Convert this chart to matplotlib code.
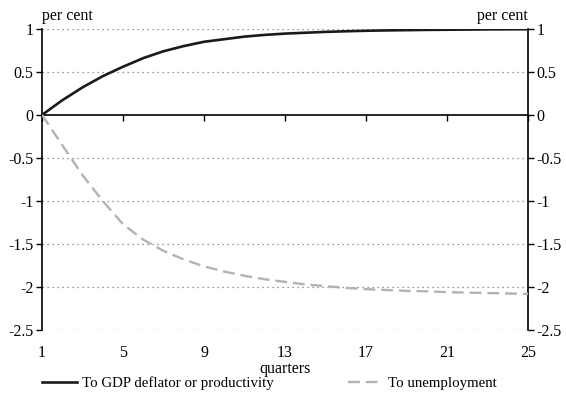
import matplotlib
matplotlib.use("Agg")
import matplotlib.pyplot as plt

plt.rcParams['font.family'] = ['Liberation Serif', 'DejaVu Serif']
plt.rcParams['font.size'] = 11.5

quarters = list(range(1, 26))
gdp_deflator = [0.0, 0.17, 0.32, 0.45, 0.56, 0.66, 0.74, 0.80, 0.85, 0.88,
                0.91, 0.93, 0.945, 0.955, 0.965, 0.972, 0.978, 0.982, 0.985,
                0.988, 0.99, 0.992, 0.994, 0.995, 0.996]
unemployment = [0.0, -0.35, -0.70, -1.0, -1.27, -1.45, -1.58, -1.68, -1.76,
                -1.82, -1.87, -1.91, -1.94, -1.97, -1.99, -2.01, -2.025,
                -2.035, -2.045, -2.05, -2.06, -2.065, -2.07, -2.075, -2.08]
x_ticks = [1, 5, 9, 13, 17, 21, 25]
y_ticks = [1, 0.5, 0, -0.5, -1, -1.5, -2, -2.5]
y_labels = ['1', '0.5', '0', '-0.5', '-1', '-1.5', '-2', '-2.5']

fig = plt.figure(figsize=(5.66, 4.01), dpi=100)
ax = fig.add_axes([0.0742, 0.177, 0.8587, 0.751])

# dotted grid lines (zero line drawn solid)
for y in y_ticks:
    if y != 0:
        ax.axhline(y, color='#777777', lw=0.9, ls=(0, (1, 3)), zorder=1)

ax.plot(quarters, gdp_deflator, color='#1a1a1a', lw=1.9,
        solid_joinstyle='round', label='To GDP deflator or productivity', zorder=3)
ax.plot(quarters, unemployment, color='#b3b3b3', lw=1.7, dashes=[5, 2.5],
        label='To unemployment', zorder=3)

ax.set_xlim(1, 25)
ax.set_ylim(-2.5, 1)

# x axis drawn on the zero line, labels kept at the bottom
ax.spines['top'].set_visible(False)
ax.spines['bottom'].set_position(('data', 0))
ax.spines['bottom'].set_linewidth(1.2)
ax.set_xticks(x_ticks)
ax.tick_params(axis='x', direction='out', length=4, width=1, labelbottom=False)

sec = ax.secondary_xaxis('bottom')
sec.set_xticks(x_ticks)
sec.spines['bottom'].set_visible(False)
sec.tick_params(length=0, pad=11)
sec.set_xlabel('quarters', labelpad=0)

ax.set_yticks(y_ticks)
ax.set_yticklabels(y_labels)
ax.tick_params(axis='y', direction='out', length=4, width=1,
               left=True, right=True, labelleft=True, labelright=True, pad=2)
ax.spines['left'].set_linewidth(1.2)
ax.spines['right'].set_linewidth(1.2)

ax.text(0.0, 1.015, 'per cent', transform=ax.transAxes, ha='left', va='bottom')
ax.text(1.0, 1.015, 'per cent', transform=ax.transAxes, ha='right', va='bottom')

fig.legend(loc='center left', bbox_to_anchor=(0.05, 0.045), ncol=2, frameon=False,
           fontsize=10.7, handlelength=2.35, handletextpad=0.35, columnspacing=5.0)

fig.savefig('out.png', dpi=100)
